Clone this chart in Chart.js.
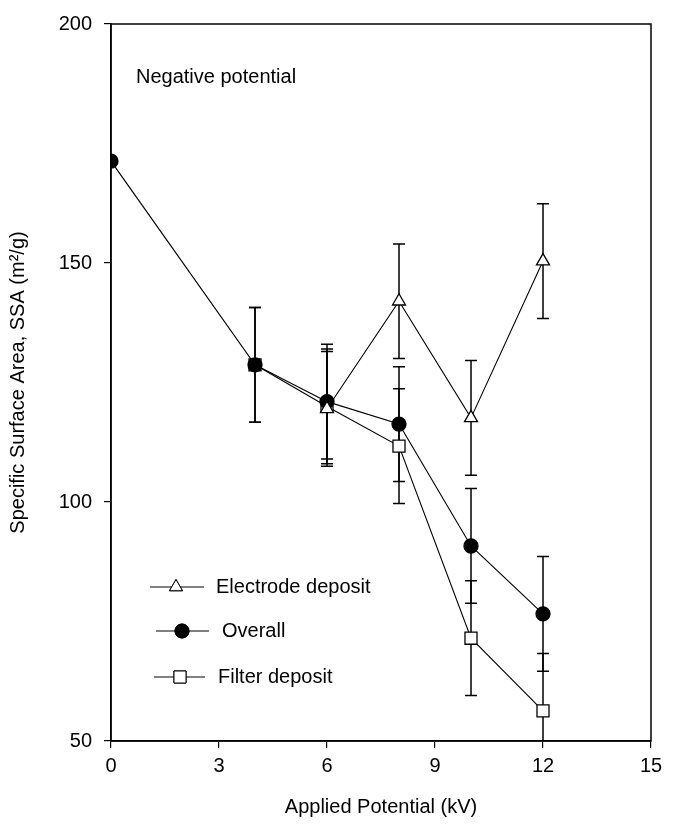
<!DOCTYPE html>
<html>
<head>
<meta charset="utf-8">
<script src="https://cdn.jsdelivr.net/npm/chart.js@4/dist/chart.umd.min.js"></script>
<style>
  html, body { margin: 0; padding: 0; background: #fff; }
  #wrap { width: 685px; height: 831px; }
</style>
</head>
<body>
<div id="wrap"><canvas id="ssaChart" width="685" height="831"></canvas></div>
<script>
// Values (SSA in m2/g vs applied potential in kV)
const xTicks = [0, 3, 6, 9, 12, 15]
const yTicks = [50, 100, 150, 200]

const electrodeKV = [6, 8, 10, 12]
const electrodeSSA = [119.5, 142, 117.6, 150.4]
const electrodeErr = [12, 12, 12, 12]

const overallKV = [0, 4, 6, 8, 10, 12]
const overallSSA = [171.3, 128.7, 121, 116.3, 90.8, 76.6]
const overallErr = [0, 12, 12, 12, 12, 12]

const filterKV = [4, 6, 8, 10, 12]
const filterSSA = [128.7, 120, 111.7, 71.5, 56.3]
const filterErr = [12, 12, 12, 12, 12]

const FONT = "'Liberation Sans', Arial, sans-serif"

const toPoints = (xs, ys) => xs.map((x, i) => ({ x: x, y: ys[i] }))

const series = [
  { label: "Electrode deposit", xs: electrodeKV, ys: electrodeSSA, err: electrodeErr,
    style: "triangle", radius: 7.5, fill: "#ffffff" },
  { label: "Overall", xs: overallKV, ys: overallSSA, err: overallErr,
    style: "circle", radius: 7, fill: "#000000" },
  { label: "Filter deposit", xs: filterKV, ys: filterSSA, err: filterErr,
    style: "rect", radius: 8.5, fill: "#ffffff" },
]

// vertical error bars with caps, drawn under the markers
const errorBars = {
  id: "errorBars",
  beforeDatasetsDraw(chart) {
    const { ctx, chartArea, scales } = chart
    ctx.save()
    ctx.beginPath()
    ctx.rect(chartArea.left, chartArea.top, chartArea.right - chartArea.left, chartArea.bottom - chartArea.top)
    ctx.clip()
    ctx.strokeStyle = "#000"
    ctx.lineWidth = 1.5
    series.forEach((s) => {
      s.xs.forEach((xv, i) => {
        const e = s.err[i]
        if (!e) return
        const px = scales.x.getPixelForValue(xv)
        const top = scales.y.getPixelForValue(s.ys[i] + e)
        const bot = scales.y.getPixelForValue(s.ys[i] - e)
        ctx.beginPath()
        ctx.moveTo(px, top)
        ctx.lineTo(px, bot)
        ctx.moveTo(px - 6, top)
        ctx.lineTo(px + 6, top)
        ctx.moveTo(px - 6, bot)
        ctx.lineTo(px + 6, bot)
        ctx.stroke()
      })
    })
    ctx.restore()
  },
}

// box around the plot, annotation and the in-plot legend
const decorations = {
  id: "decorations",
  afterDraw(chart) {
    const { ctx, chartArea } = chart
    ctx.save()
    ctx.strokeStyle = "#000"
    ctx.lineWidth = 1.5
    ctx.strokeRect(chartArea.left, chartArea.top, chartArea.right - chartArea.left, chartArea.bottom - chartArea.top)

    ctx.fillStyle = "#000"
    ctx.font = "20px " + FONT
    ctx.textBaseline = "middle"
    ctx.textAlign = "left"
    ctx.fillText("Negative potential", 136, 77)

    const rows = [
      { y: 587, x0: 150, x1: 204, mx: 176, tx: 216 },
      { y: 631, x0: 156, x1: 209, mx: 182, tx: 222 },
      { y: 677, x0: 154, x1: 205, mx: 180, tx: 218 },
    ]
    rows.forEach((r, i) => {
      const s = series[i]
      ctx.lineWidth = 1
      ctx.beginPath()
      ctx.moveTo(r.x0, r.y)
      ctx.lineTo(r.x1, r.y)
      ctx.stroke()
      Chart.helpers.drawPoint(ctx, {
        pointStyle: s.style, radius: s.radius, borderWidth: 1.3, rotation: 0,
      }, r.mx, r.y)
      ctx.fillStyle = s.fill
      ctx.fill()
      ctx.stroke()
      ctx.fillStyle = "#000"
      ctx.fillText(s.label, r.tx, r.y)
    })
    ctx.restore()
  },
}

new Chart(document.getElementById("ssaChart"), {
  type: "scatter",
  data: {
    datasets: series.map((s) => ({
      label: s.label,
      data: toPoints(s.xs, s.ys),
      showLine: true,
      borderColor: "#000",
      borderWidth: 1.1,
      pointStyle: s.style,
      pointRadius: s.radius,
      pointBorderWidth: 1.3,
      pointBackgroundColor: s.fill,
      pointBorderColor: "#000",
      tension: 0,
    })),
  },
  options: {
    responsive: false,
    animation: false,
    devicePixelRatio: 1,
    layout: { padding: { top: 24, right: 34, left: 0, bottom: 0 } },
    plugins: {
      legend: { display: false },
      tooltip: { enabled: false },
    },
    scales: {
      x: {
        type: "linear",
        min: 0,
        max: 15,
        afterBuildTicks: (scale) => { scale.ticks = xTicks.map((v) => ({ value: v })) },
        afterFit: (scale) => { scale.height = 90 },
        grid: { drawOnChartArea: false, drawTicks: true, tickLength: 7, color: "#000", lineWidth: 1.2 },
        border: { display: true, color: "#000", width: 1.5 },
        ticks: { color: "#000", font: { family: FONT, size: 20 }, padding: 6, maxRotation: 0 },
        title: {
          display: true,
          text: "Applied Potential (kV)",
          color: "#000",
          font: { family: FONT, size: 20 },
          padding: { top: 10, bottom: 12 },
        },
      },
      y: {
        type: "linear",
        min: 50,
        max: 200,
        afterBuildTicks: (scale) => { scale.ticks = yTicks.map((v) => ({ value: v })) },
        afterFit: (scale) => { scale.width = 111 },
        grid: { drawOnChartArea: false, drawTicks: true, tickLength: 7, color: "#000", lineWidth: 1.2 },
        border: { display: true, color: "#000", width: 1.5 },
        ticks: { color: "#000", font: { family: FONT, size: 20 }, padding: 12 },
        title: {
          display: true,
          text: "Specific Surface Area, SSA (m\u00b2/g)",
          color: "#000",
          font: { family: FONT, size: 20 },
          padding: { top: 6, bottom: 4 },
        },
      },
    },
  },
  plugins: [errorBars, decorations],
})
</script>
</body>
</html>
